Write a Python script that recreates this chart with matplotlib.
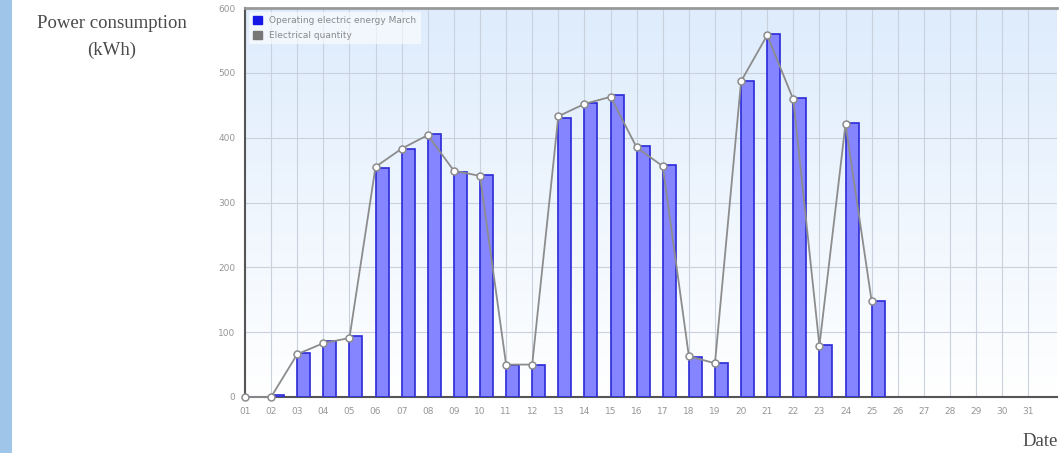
import numpy as np
import matplotlib.pyplot as plt
from matplotlib.patches import Rectangle, Patch

# 数据
days = list(range(1, 32))
day_labels = ['{:02d}'.format(d) for d in days]
bar_values = [0, 3, 68, 86, 94, 353, 383, 406, 347, 342, 50, 50, 430, 453, 466,
              387, 358, 62, 53, 488, 560, 461, 80, 422, 148]
line_values = [0, 0, 66, 83, 91, 355, 383, 404, 349, 341, 50, 50, 433, 452, 463,
               385, 356, 63, 52, 487, 558, 459, 79, 421, 148]
bar_label = 'Operating electric energy March'
line_label = 'Electrical quantity'

fig = plt.figure(figsize=(10.6, 4.53), dpi=100)
ax = fig.add_axes([245 / 1060, 1 - 397 / 453, 812 / 1060, 389 / 453])

# 左侧蓝条
fig.patches.append(Rectangle((0, 0), 12 / 1060, 1, transform=fig.transFigure,
                             facecolor='#9fc5e8', edgecolor='none', zorder=0))

# 背景渐变
grad = np.linspace(0, 1, 256).reshape(-1, 1)
top = np.array([0.87, 0.925, 0.99])
bottom = np.array([1.0, 1.0, 1.0])
img = (top * (1 - grad) + bottom * grad)[:, None, :].repeat(2, axis=1)
ax.imshow(img, extent=[0, 1, 0, 1], transform=ax.transAxes, aspect='auto', zorder=0)

x_bar = np.array(days[:len(bar_values)])
x_line = np.array(days[:len(line_values)])
ax.bar(x_bar, bar_values, width=0.5, align='edge', color='#8585ff',
       edgecolor='#2a2ad8', linewidth=1.2, zorder=3)
ax.plot(x_line, line_values, color='#8c8c8c', linewidth=1.3, marker='o',
        markersize=5, markerfacecolor='white', markeredgecolor='#8c8c8c',
        markeredgewidth=1.1, zorder=4, clip_on=False)

ax.set_xlim(1, 32.1)
ax.set_ylim(0, 600)
ax.set_xticks(days)
ax.set_xticklabels(day_labels)
ax.set_yticks(range(0, 601, 100))
ax.tick_params(axis='both', length=0, labelsize=6.5, colors='#969696', pad=7)
ax.grid(True, color='#c9d1dd', linewidth=0.8, zorder=1)
ax.set_axisbelow(True)

for side in ['left', 'bottom']:
    ax.spines[side].set_color('#555555')
    ax.spines[side].set_linewidth(1.5)
ax.spines['top'].set_color('#999999')
ax.spines['top'].set_linewidth(2)
ax.spines['right'].set_visible(False)

handles = [Patch(facecolor='#1515e6', edgecolor='#1515e6', label=bar_label),
           Patch(facecolor='#777777', edgecolor='#777777', label=line_label)]
leg = ax.legend(handles=handles, loc='upper left', fontsize=6.5, frameon=True,
                handlelength=1.0, handleheight=1.0, borderaxespad=0.4,
                labelspacing=0.6, borderpad=0.5, fancybox=False)
leg.get_frame().set_facecolor('white')
leg.get_frame().set_alpha(0.6)
leg.get_frame().set_edgecolor('none')
for t in leg.get_texts():
    t.set_color('#8a8a8a')

fig.text(112 / 1060, 1 - 23 / 453, 'Power consumption', family='Liberation Serif',
         fontsize=13.5, color='#4a4a4a', ha='center', va='center')
fig.text(112 / 1060, 1 - 50 / 453, '(kWh)', family='Liberation Serif',
         fontsize=13.5, color='#4a4a4a', ha='center', va='center')
fig.text(1058 / 1060, 1 - 442 / 453, 'Date', family='Liberation Serif',
         fontsize=13.5, color='#4a4a4a', ha='right', va='center')

fig.savefig('out.png', dpi=100)
